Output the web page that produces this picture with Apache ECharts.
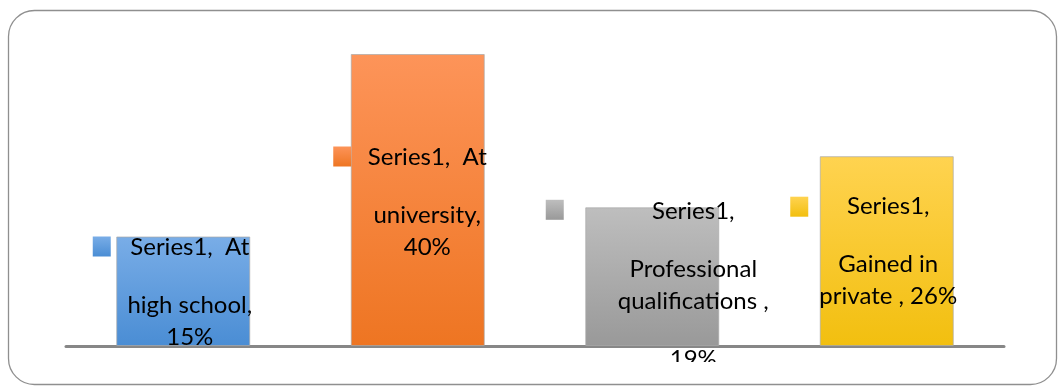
<!DOCTYPE html>
<html>
<head>
<meta charset="utf-8">
<script src="https://cdn.jsdelivr.net/npm/echarts@6/dist/echarts.min.js"></script>
<style>
html,body{margin:0;padding:0;background:#fff;}
#chart{width:1064px;height:386px;}
</style>
</head>
<body>
<div id="chart"></div>
<script>
// ---- data ----
var categories = ['At high school', 'At university', 'Professional qualifications', 'Gained in private'];
var values = [15, 40, 19, 26];
var seriesName = 'Series1';
var labelTexts = [
  '{a|Series1,  At}\n{g|}\n{a|high school,}\n{a|15%}',
  '{a|Series1,  At}\n{g|}\n{a|university,}\n{a|40%}',
  '{a|Series1,}\n{g|}\n{a|Professional}\n{a|qualifications ,}\n{g|}\n{a|19%}',
  '{a|Series1,}\n{g|}\n{a|Gained in}\n{a|private , 26%}'
];
var labelOffsets = [[6.5, 1.5], [9.5, 2], [41, 9], [1.5, 0.5]];
var keyOffsets = [[-81.5, 10], [-75.5, 102.5], [-97.5, 2.5], [-87.5, 50.5]];
var colorStops = [
  ['#79ade7', '#4a8dd4'],
  ['#fd9459', '#ee7522'],
  ['#bebebe', '#999999'],
  ['#ffd350', '#f2bf0f']
];

function grad(i) {
  return new echarts.graphic.LinearGradient(0, 0, 0, 1, [
    {offset: 0, color: colorStops[i][0]},
    {offset: 1, color: colorStops[i][1]}
  ]);
}

var chart = echarts.init(document.getElementById('chart'), null, {renderer: 'canvas'});

var barData = values.map(function (v, i) {
  return {
    value: v,
    itemStyle: {color: grad(i)},
    label: {offset: labelOffsets[i], formatter: labelTexts[i]}
  };
});

var keyData = values.map(function (v, i) {
  return {
    coord: [categories[i], v],
    symbolOffset: keyOffsets[i],
    itemStyle: {color: grad(i)}
  };
});

var option = {
  animation: false,
  backgroundColor: '#fff',
  graphic: [{
    type: 'rect',
    shape: {x: 8.5, y: 10.5, width: 1048, height: 374, r: 26},
    style: {fill: 'none', stroke: '#8f8f8f', lineWidth: 1.3},
    silent: true,
    z: -1
  }, {
    // chart area clipping below the plot (as in the reference)
    type: 'rect',
    shape: {x: 560, y: 362, width: 200, height: 14},
    style: {fill: '#fff'},
    silent: true,
    z: 100
  }],
  grid: {left: 66, right: 60, top: 54, bottom: 40, containLabel: false},
  xAxis: {
    type: 'category',
    data: categories,
    axisLine: {show: true, lineStyle: {color: '#878787', width: 3}},
    axisTick: {show: false},
    axisLabel: {show: false},
    splitLine: {show: false}
  },
  yAxis: {
    type: 'value',
    min: 0,
    max: 40,
    interval: 10,
    show: false,
    splitLine: {show: false}
  },
  series: [{
    name: seriesName,
    type: 'bar',
    barWidth: 134,
    data: barData,
    itemStyle: {borderColor: 'rgba(170,170,170,0.7)', borderWidth: 1},
    label: {
      show: true,
      position: 'inside',
      align: 'center',
      verticalAlign: 'middle',
      color: '#000',
      fontFamily: 'Lato',
      fontSize: 24,
      rich: {
        a: {fontFamily: 'Lato', fontSize: 24, lineHeight: 32, color: '#000', align: 'center'},
        g: {fontSize: 10, lineHeight: 26, align: 'center'}
      }
    },
    markPoint: {
      symbol: 'rect',
      symbolSize: [18, 20],
      label: {show: false},
      silent: true,
      data: keyData
    },
    z: 2
  }]
};
chart.setOption(option);
</script>
</body>
</html>
